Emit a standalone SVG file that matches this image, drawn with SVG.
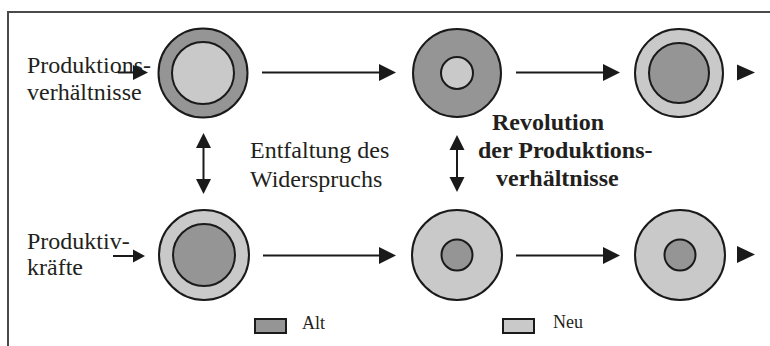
<svg xmlns="http://www.w3.org/2000/svg" width="770" height="346" viewBox="0 0 770 346">
<defs>
<style>
.alt{fill:#959595;stroke:#1a1a1a;stroke-width:2}
.neu{fill:#c9c9c9;stroke:#1a1a1a;stroke-width:2}
text{font-family:'Liberation Serif','Times New Roman',Times,serif;font-size:24px;fill:#231f20}
.b{font-weight:bold}
.lg{font-size:18px}
.ln{stroke:#1a1a1a;stroke-width:2;fill:none}
.hd{fill:#1a1a1a}
</style>
</defs>
<rect width="770" height="346" fill="#ffffff"/>
<path d="M8,346 V12 H770" fill="none" stroke="#4a4a4a" stroke-width="2"/>

<g id="labels" font-family="Liberation Serif, Times New Roman, serif">
<text x="27" y="73">Produktions-</text>
<text x="27" y="100">verhältnisse</text>
<text x="27" y="249">Produktiv-</text>
<text x="27" y="275">kräfte</text>
<text x="250" y="158">Entfaltung des</text>
<text x="250" y="187">Widerspruchs</text>
<text class="b" x="492" y="130">Revolution</text>
<text class="b" x="478" y="158">der Produktions-</text>
<text class="b" x="496" y="186">verhältnisse</text>
</g>

<g id="node-top-1">
<circle class="alt" cx="203" cy="73" r="44.5"/>
<circle class="neu" cx="203" cy="73" r="31"/>
</g>
<g id="node-top-2">
<circle class="alt" cx="457" cy="73" r="44"/>
<circle class="neu" cx="457" cy="73" r="16"/>
</g>
<g id="node-top-3">
<circle class="neu" cx="679" cy="73" r="44"/>
<circle class="alt" cx="679" cy="73" r="30"/>
</g>
<g id="node-bottom-1">
<circle class="neu" cx="204" cy="255" r="45"/>
<circle class="alt" cx="204" cy="255" r="31"/>
</g>
<g id="node-bottom-2">
<circle class="neu" cx="457" cy="255" r="45"/>
<circle class="alt" cx="457" cy="255" r="15.5"/>
</g>
<g id="node-bottom-3">
<circle class="neu" cx="680" cy="255" r="45"/>
<circle class="alt" cx="680" cy="255" r="15.5"/>
</g>

<g id="connectors">
<line class="ln" x1="118" y1="72.5" x2="134" y2="72.5"/>
<polygon class="hd" points="133,65 148,72.5 133,80"/>
<line class="ln" x1="262" y1="72.5" x2="381" y2="72.5"/>
<polygon class="hd" points="379,64 396,72.5 379,81"/>
<line class="ln" x1="516" y1="72.5" x2="605" y2="72.5"/>
<polygon class="hd" points="603,64 620,72.5 603,81"/>
<polygon class="hd" points="737,64.5 755,72.5 737,80.5"/>

<line class="ln" x1="113" y1="256" x2="134" y2="256"/>
<polygon class="hd" points="133,249.5 145,256 133,262.5"/>
<line class="ln" x1="263" y1="255.5" x2="381" y2="255.5"/>
<polygon class="hd" points="379,247 396,255.5 379,264"/>
<line class="ln" x1="516" y1="255.5" x2="605" y2="255.5"/>
<polygon class="hd" points="603,247 620,255.5 603,264"/>
<polygon class="hd" points="737,246 755,254.5 737,263"/>

<line class="ln" x1="203.5" y1="146" x2="203.5" y2="181"/>
<polygon class="hd" points="203.5,133 211,148 196,148"/>
<polygon class="hd" points="203.5,194 211,179 196,179"/>
<line class="ln" x1="457" y1="148" x2="457" y2="178"/>
<polygon class="hd" points="457,135 464.5,150 449.5,150"/>
<polygon class="hd" points="457,192 464.5,177 449.5,177"/>
</g>

<g id="legend">
<rect class="alt" x="255" y="319" width="31" height="14" stroke-width="1.8"/>
<text class="lg" x="302" y="329">Alt</text>
<rect class="neu" x="503" y="319" width="31" height="14" stroke-width="1.8"/>
<text class="lg" x="553" y="328">Neu</text>
</g>
</svg>
